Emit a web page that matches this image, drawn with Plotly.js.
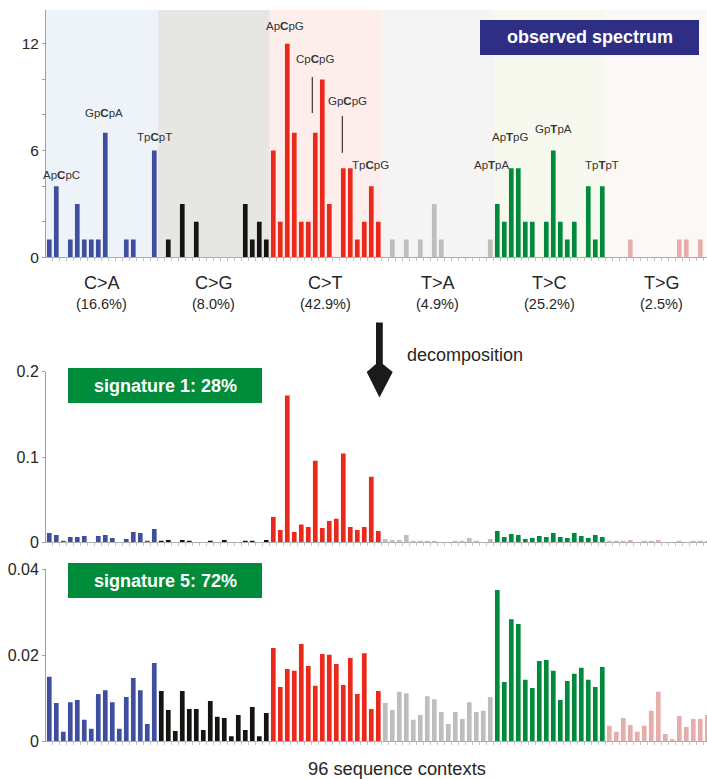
<!DOCTYPE html>
<html>
<head>
<meta charset="utf-8">
<script src="https://cdn.plot.ly/plotly-3.0.1.min.js"></script>
<style>
html,body{margin:0;padding:0;background:#fff;overflow:hidden;}
#chart{width:707px;height:779px;}
</style>
</head>
<body>
<div id="chart"></div>
<script>
// ---------------- DATA ----------------
const mutationTypes = ['C>A', 'C>G', 'C>T', 'T>A', 'T>C', 'T>G'];
const typePercents = ['(16.6%)', '(8.0%)', '(42.9%)', '(4.9%)', '(25.2%)', '(2.5%)'];
const bases = ['A', 'C', 'G', 'T'];

// observed spectrum (counts)
const obsCA = [1, 4, 0, 1, 3, 1, 1, 1, 7, 0, 0, 1, 1, 0, 0, 6];
const obsCG = [0, 1, 0, 3, 0, 2, 0, 0, 0, 0, 0, 0, 3, 1, 2, 1];
const obsCT = [6, 2, 12, 7, 2, 2, 7, 10, 3, 0, 5, 5, 1, 2, 4, 2];
const obsTA = [0, 1, 0, 1, 0, 1, 0, 3, 1, 0, 0, 0, 0, 0, 0, 1];
const obsTC = [3, 2, 5, 5, 2, 2, 0, 2, 6, 2, 1, 2, 0, 4, 1, 4];
const obsTG = [0, 0, 0, 1, 0, 0, 0, 0, 0, 0, 1, 1, 0, 1, 0, 0];

// signature 1 (proportions)
const sig1CA = [0.011, 0.0086, 0.0016, 0.0063, 0.0063, 0.0075, 0, 0.0075, 0.0086, 0.005, 0, 0.004, 0.012, 0.011, 0.0016, 0.0157];
const sig1CG = [0.0016, 0.0027, 0, 0.0027, 0.0016, 0, 0, 0.0016, 0, 0.0027, 0, 0, 0.0016, 0.0016, 0, 0.0027];
const sig1CT = [0.0298, 0.0145, 0.172, 0.012, 0.0208, 0.018, 0.0957, 0.0169, 0.025, 0.0275, 0.104, 0.018, 0.0145, 0.018, 0.0769, 0.0133];
const sig1TA = [0.004, 0.0027, 0.0027, 0.0086, 0.0016, 0.0016, 0.0016, 0.0016, 0, 0, 0.0016, 0.0016, 0.005, 0.0016, 0, 0.004];
const sig1TC = [0.0133, 0.0063, 0.0098, 0.0086, 0.004, 0.005, 0.0075, 0.0063, 0.011, 0.0063, 0.005, 0.011, 0.0075, 0.005, 0.0086, 0.0063];
const sig1TG = [0.0016, 0.0016, 0.0016, 0.0027, 0, 0.0016, 0.0016, 0.0027, 0, 0, 0.0016, 0, 0.0016, 0.0016, 0.0016, 0.0016];

// signature 5 (proportions)
const sig5CA = [0.0150, 0.0089, 0.0022, 0.0091, 0.0096, 0.0050, 0.0029, 0.0110, 0.0119, 0.0091, 0.0029, 0.0103, 0.0147, 0.0119, 0.0040, 0.0182];
const sig5CG = [0.0117, 0.0073, 0.0024, 0.0117, 0.0075, 0.0075, 0.0026, 0.0094, 0.0057, 0.0054, 0.0012, 0.0061, 0.0026, 0.0080, 0.0012, 0.0066];
const sig5CT = [0.0217, 0.0126, 0.0168, 0.0164, 0.0226, 0.0175, 0.0129, 0.0203, 0.0201, 0.0180, 0.0131, 0.0194, 0.0110, 0.0205, 0.0075, 0.0117];
const sig5TA = [0.0089, 0.0073, 0.0115, 0.0112, 0.0050, 0.0061, 0.0105, 0.0098, 0.0068, 0.0040, 0.0068, 0.0052, 0.0091, 0.0068, 0.0071, 0.0103];
const sig5TC = [0.0352, 0.0138, 0.0284, 0.0273, 0.0143, 0.0124, 0.0187, 0.0189, 0.0164, 0.0096, 0.0140, 0.0157, 0.0171, 0.0143, 0.0126, 0.0173];
const sig5TG = [0.0036, 0.0022, 0.0054, 0.0038, 0.0022, 0.0036, 0.0071, 0.0115, 0.0017, 0.0003, 0.0059, 0.0033, 0.0052, 0.0052, 0.0061, 0.0040];

// highlighted context labels in the observed spectrum
const highlightContexts = ['ApCpC', 'GpCpA', 'TpCpT', 'ApCpG', 'CpCpG', 'GpCpG', 'TpCpG', 'ApTpA', 'ApTpG', 'GpTpA', 'TpTpT'];

// ---------------- STYLES ----------------
const barColors = ['#3f4e9e', '#141410', '#e8291b', '#bfbebd', '#008a3c', '#e6aeab'];
const bgColors  = ['#eef3f9', '#e6e6e5', '#fdeeeb', '#f4f4f4', '#f7f9ee', '#fdf8f8'];
const FONT = 'Liberation Sans, Arial, Helvetica, sans-serif';
const TXT = '#262626';
const W = 707, H = 779, LM = 46;
const px2x = p => (p - LM) / (W - LM);
const py2y = p => 1 - p / H;

// ---------------- BUILD ----------------
const panels = [
  {vals: [obsCA, obsCG, obsCT, obsTA, obsTC, obsTG], xa: 'x', ya: 'y'},
  {vals: [sig1CA, sig1CG, sig1CT, sig1TA, sig1TC, sig1TG], xa: 'x2', ya: 'y2'},
  {vals: [sig5CA, sig5CG, sig5CT, sig5TA, sig5TC, sig5TG], xa: 'x3', ya: 'y3'}
];

// contexts in canonical order: 5' base, mutated base, 3' base
const contexts = [];
mutationTypes.forEach(t => {
  bases.forEach(b5 => bases.forEach(b3 => contexts.push(b5 + '[' + t + ']' + b3)));
});

const traces = [];
panels.forEach(p => {
  p.vals.forEach((arr, g) => {
    const xs = arr.map((_, k) => g * 16 + k);
    traces.push({
      type: 'bar', x: xs, y: arr, xaxis: p.xa, yaxis: p.ya,
      width: 0.67, marker: {color: barColors[g], line: {width: 0}},
      text: xs.map(i => contexts[i]), hoverinfo: 'text+y', textposition: 'none',
      showlegend: false
    });
  });
});

const xRange = [-0.47, 93.96];
const boundaries = [];
for (let i = 0; i <= 96; i++) boundaries.push(i - 0.5);

function xAxis() {
  return {
    range: xRange, domain: [0, 1], showgrid: false, zeroline: false,
    showline: true, linecolor: '#adadad', linewidth: 1,
    tickmode: 'array', tickvals: boundaries, ticks: 'outside', ticklen: 3,
    tickcolor: '#c4c4c4', tickwidth: 1, showticklabels: false, fixedrange: true
  };
}
function yAxis(domain, range, tickvals, ticktext, anchor) {
  return {
    domain: domain, range: range, anchor: anchor, showgrid: false, zeroline: false,
    showline: true, linecolor: '#a0a0a0', linewidth: 1,
    tickmode: 'array', tickvals: tickvals, ticktext: ticktext,
    ticks: 'outside', ticklen: 3, tickcolor: '#a0a0a0',
    tickfont: {family: FONT, size: 16, color: TXT}, fixedrange: true
  };
}

const shapes = [];
const annotations = [];

// background shading of mutation classes (top panel)
mutationTypes.forEach((t, g) => {
  shapes.push({
    type: 'rect', xref: 'x', yref: 'y', layer: 'below',
    x0: g * 16 - 0.5, x1: g * 16 + 15.5, y0: 0, y1: 13.9,
    fillcolor: bgColors[g], line: {width: 0}
  });
  annotations.push({
    xref: 'x', yref: 'paper', x: g * 16 + 7.5, y: py2y(283), text: t,
    showarrow: false, xanchor: 'center', yanchor: 'middle',
    font: {family: FONT, size: 18, color: TXT}
  });
  annotations.push({
    xref: 'x', yref: 'paper', x: g * 16 + 7.5, y: py2y(304), text: typePercents[g],
    showarrow: false, xanchor: 'center', yanchor: 'middle',
    font: {family: FONT, size: 14.5, color: TXT}
  });
});

// context labels in the observed spectrum
const labelPos = [
  [1.74, 4.63], [7.81, 8.11], [14.97, 6.77], [33.67, 13.0], [37.91, 11.16],
  [42.6, 8.77], [45.91, 5.21], [63.2, 5.21], [65.91, 6.78], [71.96, 7.22], [78.91, 5.21]
];
highlightContexts.forEach((c, j) => {
  annotations.push({
    xref: 'x', yref: 'y', x: labelPos[j][0], y: labelPos[j][1],
    text: c[0] + c[1] + '<b>' + c[2] + '</b>' + c[3] + c[4],
    showarrow: false, xanchor: 'center', yanchor: 'middle',
    font: {family: FONT, size: 11.5, color: '#333'}
  });
});
// leader lines
shapes.push({type: 'line', xref: 'x', yref: 'y', x0: 37.57, x1: 37.57, y0: 10.13, y1: 8.11, line: {color: '#111', width: 1}});
shapes.push({type: 'line', xref: 'x', yref: 'y', x0: 41.86, x1: 41.86, y0: 7.95, y1: 5.87, line: {color: '#111', width: 1}});

// title boxes
function box(x0, x1, y0, y1, color, text) {
  shapes.push({
    type: 'rect', xref: 'paper', yref: 'paper',
    x0: px2x(x0), x1: px2x(x1), y0: py2y(y1), y1: py2y(y0),
    fillcolor: color, line: {width: 0}, layer: 'above'
  });
  annotations.push({
    xref: 'paper', yref: 'paper', x: px2x((x0 + x1) / 2), y: py2y((y0 + y1) / 2),
    text: '<b>' + text + '</b>', showarrow: false, xanchor: 'center', yanchor: 'middle',
    font: {family: FONT, size: 18, color: '#ffffff'}
  });
}
box(480, 699, 20, 55, '#2e2f84', 'observed spectrum');
box(68, 262, 368, 403, '#008c3a', 'signature 1: 28%');
box(68, 262, 563, 598, '#008c3a', 'signature 5: 72%');

// decomposition arrow
const arrowPts = [[376, 322.5], [382.8, 322.5], [382.8, 364], [392.7, 372], [379.5, 397.5], [366.7, 372], [376, 364]];
shapes.push({
  type: 'path', xref: 'paper', yref: 'paper',
  path: 'M' + arrowPts.map(p => px2x(p[0]).toFixed(5) + ',' + py2y(p[1]).toFixed(5)).join(' L') + ' Z',
  fillcolor: '#1a1a1a', line: {width: 0}, layer: 'above'
});
annotations.push({
  xref: 'paper', yref: 'paper', x: px2x(405), y: py2y(355), text: 'decomposition',
  showarrow: false, xanchor: 'left', yanchor: 'middle',
  font: {family: FONT, size: 18, color: TXT}
});
annotations.push({
  xref: 'paper', yref: 'paper', x: px2x(397), y: py2y(768), text: '96 sequence contexts',
  showarrow: false, xanchor: 'center', yanchor: 'middle',
  font: {family: FONT, size: 18.3, color: TXT}
});

const layout = {
  width: W, height: H,
  margin: {l: LM, r: 0, t: 0, b: 0, pad: 0},
  paper_bgcolor: '#ffffff', plot_bgcolor: 'rgba(0,0,0,0)',
  barmode: 'overlay', showlegend: false,
  font: {family: FONT, color: TXT},
  xaxis: Object.assign(xAxis(), {anchor: 'y'}),
  xaxis2: Object.assign(xAxis(), {anchor: 'y2'}),
  xaxis3: Object.assign(xAxis(), {anchor: 'y3'}),
  yaxis: Object.assign(yAxis([py2y(257.3), py2y(10)], [0, 13.9],
    [0, 2, 4, 6, 8, 10, 12], ['0', '', '', '6', '', '', '12'], 'x'), {tickfont: {family: FONT, size: 15.5, color: TXT}}),
  yaxis2: yAxis([py2y(542.3), py2y(371.7)], [0, 0.2], [0, 0.1, 0.2], ['0', '0.1', '0.2'], 'x2'),
  yaxis3: yAxis([py2y(741.3), py2y(569.3)], [0, 0.04], [0, 0.02, 0.04], ['0', '0.02', '0.04'], 'x3'),
  shapes: shapes,
  annotations: annotations
};

Plotly.newPlot('chart', traces, layout, {displayModeBar: false, responsive: false, staticPlot: false});
</script>
</body>
</html>
